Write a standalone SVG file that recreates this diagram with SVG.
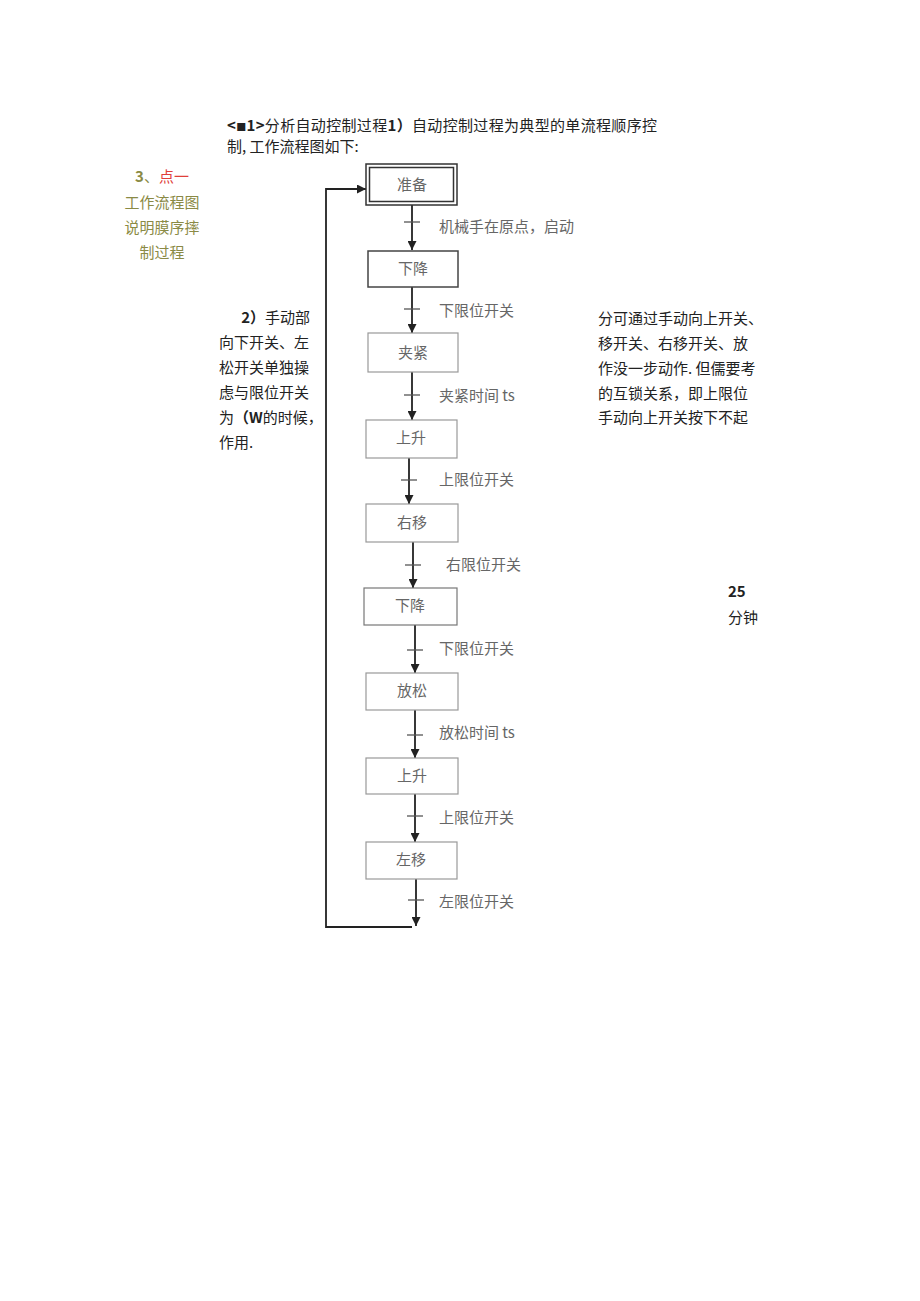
<svg xmlns="http://www.w3.org/2000/svg" width="920" height="1301" viewBox="0 0 920 1301">
<defs>
<marker id="ah" viewBox="0 0 10 10" refX="10" refY="5" markerWidth="9" markerHeight="9" markerUnits="userSpaceOnUse" orient="auto">
<path d="M0,0 L10,5 L0,10 z" fill="#222"/>
</marker>
<style>
text{font-family:"Noto Sans CJK SC","Noto Sans",sans-serif;font-size:15px;}
.t{fill:#222;}
.ol{fill:#8a8a45;}
.red{fill:#e0403a;}
.b{font-weight:bold;}
.lab{fill:#666;font-size:15px;}
.box{fill:#fff;stroke:#999;stroke-width:1.2;}
.dark{stroke:#444;stroke-width:1.5;}
.bt{fill:#666;text-anchor:middle;}
.ar{stroke:#222;stroke-width:1.8;fill:none;}
.tk{stroke:#555;stroke-width:1.3;}
</style>
</defs>
<rect width="920" height="1301" fill="#fff"/>

<g id="heading">
<text class="t" x="227" y="131" textLength="430" lengthAdjust="spacing"><tspan class="b">&lt;</tspan><tspan class="b" font-size="10">■</tspan><tspan class="b">1&gt;</tspan>分析自动控制过程<tspan class="b">1）</tspan>自动控制过程为典型的单流程顺序控</text>
<text class="t" x="227" y="152">制, 工作流程图如下:</text>
</g>

<g id="sidebar">
<text x="162" y="182" text-anchor="middle"><tspan class="ol b">3</tspan><tspan class="ol">、</tspan><tspan class="red">点一</tspan></text>
<text class="ol" x="162" y="208" text-anchor="middle">工作流程图</text>
<text class="ol" x="162" y="233" text-anchor="middle">说明膜序摔</text>
<text class="ol" x="162" y="258" text-anchor="middle">制过程</text>
</g>

<g id="left-note">
<text class="t" x="310" y="323" text-anchor="end"><tspan class="b">2）</tspan>手动部</text>
<text class="t" x="219" y="348">向下开关、左</text>
<text class="t" x="219" y="373">松开关单独操</text>
<text class="t" x="219" y="398">虑与限位开关</text>
<text class="t" x="219" y="423">为<tspan class="b">（W</tspan>的时候，</text>
<text class="t" x="219" y="448">作用.</text>
</g>

<g id="right-note">
<text class="t" x="598" y="324">分可通过手动向上开关、</text>
<text class="t" x="598" y="349">移开关、右移开关、放</text>
<text class="t" x="598" y="374">作没一步动作. 但儒要考</text>
<text class="t" x="598" y="399">的互锁关系，即上限位</text>
<text class="t" x="598" y="423">手动向上开关按下不起</text>
<text class="t b" x="728" y="597">25</text>
<text class="t" x="728" y="623">分钟</text>
</g>

<g id="connectors">
<line class="ar" x1="412" y1="205" x2="412" y2="250" marker-end="url(#ah)"/>
<line class="tk" x1="404" y1="222" x2="420" y2="222"/>
<line class="ar" x1="412" y1="287" x2="412" y2="333" marker-end="url(#ah)"/>
<line class="tk" x1="404" y1="309" x2="420" y2="309"/>
<line class="ar" x1="412" y1="372" x2="412" y2="420" marker-end="url(#ah)"/>
<line class="tk" x1="404" y1="395" x2="420" y2="395"/>
<line class="ar" x1="409" y1="458" x2="409" y2="504" marker-end="url(#ah)"/>
<line class="tk" x1="401" y1="480" x2="417" y2="480"/>
<line class="ar" x1="413" y1="542" x2="413" y2="588" marker-end="url(#ah)"/>
<line class="tk" x1="405" y1="565" x2="421" y2="565"/>
<line class="ar" x1="415" y1="625" x2="415" y2="673" marker-end="url(#ah)"/>
<line class="tk" x1="407" y1="650" x2="423" y2="650"/>
<line class="ar" x1="415" y1="710" x2="415" y2="758" marker-end="url(#ah)"/>
<line class="tk" x1="407" y1="735" x2="423" y2="735"/>
<line class="ar" x1="415" y1="794" x2="415" y2="842" marker-end="url(#ah)"/>
<line class="tk" x1="407" y1="816" x2="423" y2="816"/>
<line class="ar" x1="416" y1="879" x2="416" y2="926" marker-end="url(#ah)"/>
<line class="tk" x1="408" y1="900" x2="424" y2="900"/>
<polyline class="ar" points="412,927 326,927 326,189 366,189" marker-end="url(#ah)"/>
</g>

<g id="n-zhunbei">
<rect x="366" y="164" width="91" height="41" fill="#fff" stroke="#333" stroke-width="1.5"/>
<rect x="369.5" y="167.5" width="84" height="34" fill="none" stroke="#333" stroke-width="1.5"/>
<text class="bt" x="412" y="190">准备</text>
</g>
<g id="n-xiajiang1">
<rect class="box dark" x="368" y="251" width="90" height="36"/>
<text class="bt" x="413" y="274">下降</text>
</g>
<g id="n-jiajin">
<rect class="box" x="368" y="333" width="90" height="39"/>
<text class="bt" x="413" y="358">夹紧</text>
</g>
<g id="n-shangsheng1">
<rect class="box" x="366" y="420" width="91" height="38"/>
<text class="bt" x="411" y="443">上升</text>
</g>
<g id="n-youyi">
<rect class="box" x="366" y="504" width="92" height="38"/>
<text class="bt" x="412" y="528">右移</text>
</g>
<g id="n-xiajiang2">
<rect class="box" x="364" y="588" width="93" height="37" style="stroke:#777"/>
<text class="bt" x="410" y="611">下降</text>
</g>
<g id="n-fangsong">
<rect class="box" x="366" y="673" width="92" height="37"/>
<text class="bt" x="412" y="696">放松</text>
</g>
<g id="n-shangsheng2">
<rect class="box" x="366" y="758" width="92" height="36"/>
<text class="bt" x="412" y="781">上升</text>
</g>
<g id="n-zuoyi">
<rect class="box" x="366" y="842" width="91" height="37"/>
<text class="bt" x="411" y="865">左移</text>
</g>

<g id="labels">
<text class="lab" x="439" y="232">机械手在原点，启动</text>
<text class="lab" x="439" y="316">下限位开关</text>
<text class="lab" x="439" y="401">夹紧时间 ts</text>
<text class="lab" x="439" y="485">上限位开关</text>
<text class="lab" x="446" y="570">右限位开关</text>
<text class="lab" x="439" y="654">下限位开关</text>
<text class="lab" x="439" y="738">放松时间 ts</text>
<text class="lab" x="439" y="823">上限位开关</text>
<text class="lab" x="439" y="907">左限位开关</text>
</g>
</svg>
